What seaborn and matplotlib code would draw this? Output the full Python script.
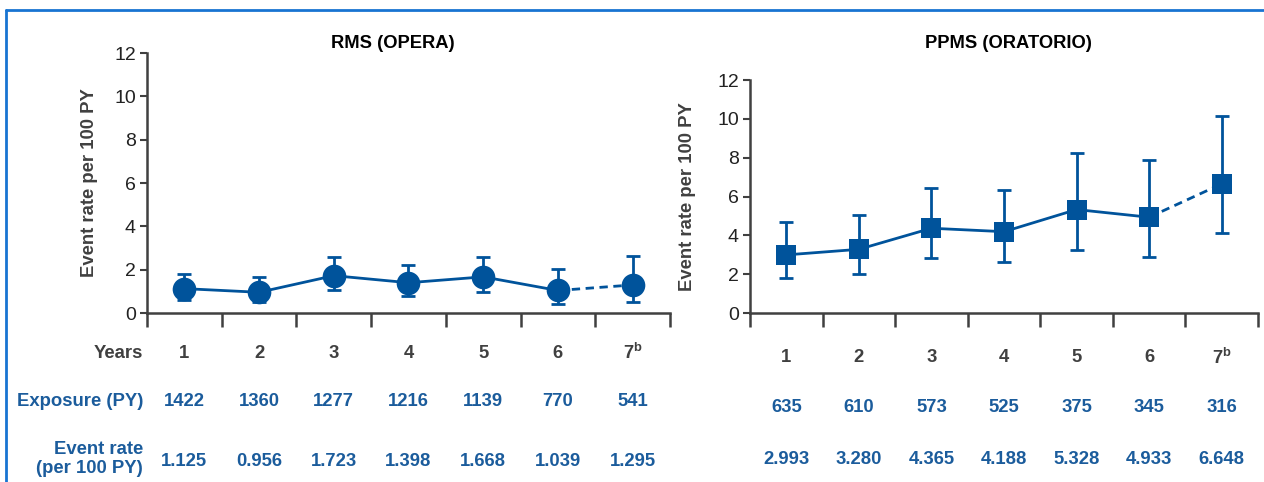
"""
Annualised event rates by year, RMS (OPERA) and PPMS (ORATORIO).
"""

import numpy as np
import pandas as pd
import matplotlib
matplotlib.use("Agg")
import matplotlib.pyplot as plt
import seaborn as sns
from matplotlib import transforms
from matplotlib.lines import Line2D

# data
years = ["1", "2", "3", "4", "5", "6", "7"]
year_labels = ["1", "2", "3", "4", "5", "6", r"7$^{\mathbf{b}}$"]

rms_rate = [1.125, 0.956, 1.723, 1.398, 1.668, 1.039, 1.295]
rms_lower = [0.62, 0.50, 1.06, 0.80, 0.95, 0.43, 0.49]
rms_upper = [1.82, 1.64, 2.58, 2.22, 2.60, 2.04, 2.64]
rms_exposure = [1422, 1360, 1277, 1216, 1139, 770, 541]
rms_rate_text = ["1.125", "0.956", "1.723", "1.398", "1.668", "1.039", "1.295"]

ppms_rate = [2.993, 3.280, 4.365, 4.188, 5.328, 4.933, 6.648]
ppms_lower = [1.80, 2.00, 2.83, 2.62, 3.26, 2.88, 4.11]
ppms_upper = [4.71, 5.07, 6.43, 6.34, 8.23, 7.89, 10.15]
ppms_exposure = [635, 610, 573, 525, 375, 345, 316]
ppms_rate_text = ["2.993", "3.280", "4.365", "4.188", "5.328", "4.933", "6.648"]

BLUE = "#00539B"
TEXT_BLUE = "#1B5C9C"
GRAY = "#404040"
BORDER = "#1874D2"

W, H = 1264, 482
TABLE_SIZE = 13.3

sns.set_theme(style="white")
plt.rcParams["font.family"] = ["Liberation Sans", "DejaVu Sans"]
plt.rcParams["mathtext.fontset"] = "custom"
plt.rcParams["mathtext.bf"] = "Liberation Sans:bold"
plt.rcParams["mathtext.rm"] = "Liberation Sans"


def draw_panel(ax, rate, lower, upper, marker, size):
    x = np.arange(len(years))
    df = pd.DataFrame({"x": x, "rate": rate})
    rate = np.array(rate)
    yerr = [rate - np.array(lower), np.array(upper) - rate]

    sns.lineplot(data=df.iloc[:6], x="x", y="rate", ax=ax, color=BLUE,
                 linewidth=2)
    sns.lineplot(data=df.iloc[5:], x="x", y="rate", ax=ax, color=BLUE,
                 linewidth=2, linestyle=(0, (3, 2)))
    ax.errorbar(x, rate, yerr=yerr, fmt="none", ecolor=BLUE,
                elinewidth=2, capsize=5, capthick=2, zorder=3)
    sns.scatterplot(data=df, x="x", y="rate", ax=ax, marker=marker, s=size,
                    color=BLUE, edgecolor=BLUE, linewidth=0, zorder=5,
                    clip_on=False)

    ax.set_xlim(-0.5, len(years) - 0.5)
    ax.set_ylim(0, 12)
    ax.set_yticks(range(0, 13, 2))
    ax.set_xticks(np.arange(-0.5, len(years), 1.0))
    ax.set_xticklabels([])
    ax.set_xlabel("")
    ax.set_ylabel("Event rate per 100 PY", fontsize=13.3, fontweight="bold",
                  color=GRAY)
    ax.tick_params(axis="y", direction="out", length=5, width=1.5,
                   color=GRAY, labelsize=14, labelcolor="#222222", pad=3,
                   left=True)
    ax.tick_params(axis="x", direction="out", length=10, width=1.8,
                   color=GRAY, bottom=True)
    for side in ["top", "right"]:
        ax.spines[side].set_visible(False)
    for side in ["left", "bottom"]:
        ax.spines[side].set_color(GRAY)
        ax.spines[side].set_linewidth(1.8)
    ax.grid(False)


def draw_table(ax, rows_y, exposure, rate_text):
    trans = transforms.blended_transform_factory(ax.transData, fig.transFigure)
    for i in range(len(years)):
        ax.text(i, 1 - rows_y[0] / H, year_labels[i], transform=trans,
                ha="center", va="center", fontsize=TABLE_SIZE,
                fontweight="bold", color=GRAY)
        ax.text(i, 1 - rows_y[1] / H, str(exposure[i]), transform=trans,
                ha="center", va="center", fontsize=TABLE_SIZE,
                fontweight="bold", color=TEXT_BLUE)
        ax.text(i, 1 - rows_y[2] / H, rate_text[i], transform=trans,
                ha="center", va="center", fontsize=TABLE_SIZE,
                fontweight="bold", color=TEXT_BLUE)


fig = plt.figure(figsize=(W / 100, H / 100), dpi=100)
ax1 = fig.add_axes([147 / W, 1 - 313 / H, 523 / W, 260 / H])
ax2 = fig.add_axes([750 / W, 1 - 313 / H, 508 / W, 233 / H])

draw_panel(ax1, rms_rate, rms_lower, rms_upper, "o", 290)
draw_panel(ax2, ppms_rate, ppms_lower, ppms_upper, "s", 215)
ax1.yaxis.set_label_coords(-0.094, 0.5)
ax2.yaxis.set_label_coords(-0.106, 0.5)

fig.text(393 / W, 1 - 43 / H, "RMS (OPERA)", ha="center", va="center",
         fontsize=13.2, fontweight="bold", color="black")
fig.text(1008 / W, 1 - 43 / H, "PPMS (ORATORIO)", ha="center", va="center",
         fontsize=13.2, fontweight="bold", color="black")

draw_table(ax1, [353, 402, 461], rms_exposure, rms_rate_text)
draw_table(ax2, [358, 407, 460], ppms_exposure, ppms_rate_text)

fig.text(143 / W, 1 - 353 / H, "Years", ha="right", va="center",
         fontsize=TABLE_SIZE, fontweight="bold", color=GRAY)
fig.text(143 / W, 1 - 402 / H, "Exposure (PY)", ha="right", va="center",
         fontsize=TABLE_SIZE, fontweight="bold", color=TEXT_BLUE)
fig.text(143 / W, 1 - 459 / H, "Event rate\n(per 100 PY)", ha="right",
         va="center", fontsize=TABLE_SIZE, fontweight="bold", color=TEXT_BLUE,
         multialignment="right", linespacing=1.2)

# blue frame along the top and left edges
fig.add_artist(Line2D([6 / W, 1], [1 - 10 / H, 1 - 10 / H],
                      transform=fig.transFigure, color=BORDER, linewidth=2))
fig.add_artist(Line2D([6 / W, 6 / W], [0, 1 - 10 / H],
                      transform=fig.transFigure, color=BORDER, linewidth=2))

fig.savefig("out.png", dpi=100)
